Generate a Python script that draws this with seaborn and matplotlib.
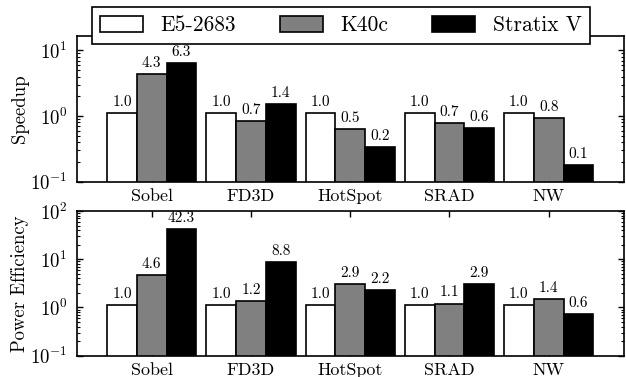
import matplotlib
matplotlib.use("Agg")
import matplotlib.pyplot as plt
from matplotlib.patches import Patch
import seaborn as sns
import pandas as pd

benchmarks = ["Sobel", "FD3D", "HotSpot", "SRAD", "NW"]
platforms = ["E5-2683", "K40c", "Stratix V"]
colors = ["white", "#808080", "black"]

speedup_e5 = [1.0, 1.0, 1.0, 1.0, 1.0]
speedup_k40c = [4.3, 0.73, 0.53, 0.68, 0.84]
speedup_stratix = [6.3, 1.44, 0.24, 0.56, 0.08]

power_e5 = [1.0, 1.0, 1.0, 1.0, 1.0]
power_k40c = [4.6, 1.23, 2.94, 1.1, 1.4]
power_stratix = [42.3, 8.8, 2.2, 2.9, 0.63]

# bars are drawn a bit above the printed value so tiny values stay visible
bar_offset = 0.1

sns.set_style("ticks", {
    "xtick.direction": "in", "ytick.direction": "in",
    "xtick.top": True, "ytick.right": True,
    "axes.edgecolor": "black", "text.color": "black",
    "xtick.color": "black", "ytick.color": "black",
    "axes.labelcolor": "black",
})
plt.rcParams["font.family"] = ["cmr10", "DejaVu Serif"]
plt.rcParams["mathtext.fontset"] = "cm"
plt.rcParams["axes.formatter.use_mathtext"] = True
plt.rcParams["axes.linewidth"] = 1.2
plt.rcParams["xtick.major.size"] = 4
plt.rcParams["ytick.major.size"] = 4
plt.rcParams["ytick.minor.size"] = 2
plt.rcParams["xtick.major.width"] = 1
plt.rcParams["ytick.major.width"] = 1
plt.rcParams["ytick.minor.width"] = 0.8
plt.rcParams["xtick.major.pad"] = 5
plt.rcParams["ytick.major.pad"] = 7
plt.rcParams["xtick.labelsize"] = 13
plt.rcParams["ytick.labelsize"] = 13.5


def make_df(series):
    rows = []
    for p, vals in zip(platforms, series):
        for b, v in zip(benchmarks, vals):
            rows.append({"benchmark": b, "platform": p, "value": v,
                         "height": v + bar_offset})
    return pd.DataFrame(rows)


fig = plt.figure(figsize=(6.26, 3.77), dpi=100)
ax1 = fig.add_axes([0.123, 0.518, 0.874, 0.3865])
ax2 = fig.add_axes([0.123, 0.0565, 0.874, 0.3838])

panels = [
    (ax1, [speedup_e5, speedup_k40c, speedup_stratix], "Speedup", 16.6),
    (ax2, [power_e5, power_k40c, power_stratix], "Power Efficiency", 100),
]

for ax, series, ylabel, ytop in panels:
    df = make_df(series)
    sns.barplot(data=df, x="benchmark", y="height", hue="platform",
                order=benchmarks, hue_order=platforms, palette=colors,
                edgecolor="black", linewidth=1.2, width=0.9, gap=0,
                errorbar=None, legend=False, ax=ax)
    ax.set_yscale("log", nonpositive="clip")
    for cont, vals in zip(ax.containers, series):
        ax.bar_label(cont, labels=[f"{v:.1f}" for v in vals],
                     padding=3, fontsize=11)
    ax.set_ylim(0.1, ytop)
    ax.set_xlim(-0.753, 4.76)
    ax.set_xlabel("")
    ax.set_ylabel(ylabel, fontsize=13.5)
    ax.yaxis.set_label_coords(-0.088, 0.5)

handles = [Patch(facecolor=c, edgecolor="black", linewidth=1.2) for c in colors]
leg = ax1.legend(handles, platforms, ncol=3, loc="lower left",
                 bbox_to_anchor=(0.027, 0.945, 0.911, 0.27), mode="expand",
                 borderaxespad=0, fontsize=15.5, handlelength=2.0,
                 handleheight=0.75, handletextpad=0.8, fancybox=False,
                 framealpha=1, edgecolor="black", borderpad=0.4)
leg.get_frame().set_linewidth(1.2)

fig.savefig("out.png", dpi=100)
